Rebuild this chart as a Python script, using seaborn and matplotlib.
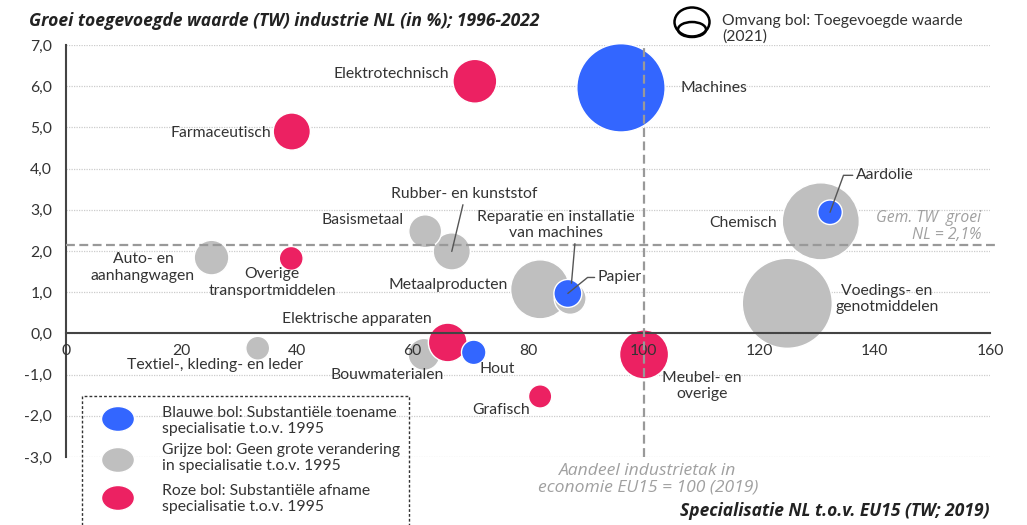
import matplotlib
matplotlib.use('Agg')
import matplotlib.pyplot as plt
import seaborn as sns
import pandas as pd
from matplotlib.patches import Ellipse, Rectangle
from matplotlib.ticker import MultipleLocator, FuncFormatter

# data
sectoren = ["Elektrotechnisch", "Farmaceutisch", "Machines", "Aardolie", "Chemisch",
            "Basismetaal", "Rubber- en kunststof", "Reparatie en installatie\nvan machines",
            "Papier", "Metaalproducten", "Voedings- en\ngenotmiddelen", "Auto- en\naanhangwagen",
            "Overige\ntransportmiddelen", "Elektrische apparaten", "Textiel-, kleding- en leder",
            "Bouwmaterialen", "Hout", "Meubel- en\noverige", "Grafisch"]
specialisatie = [70.8, 39.1, 96.1, 132.3, 130.7, 62.2, 66.8, 87.3, 86.9, 82.1,
                 124.9, 25.2, 39.0, 66.1, 33.2, 62.0, 70.6, 100.1, 82.1]
groei = [6.12, 4.90, 5.96, 2.94, 2.72, 2.48, 1.99, 0.85, 0.97, 1.07,
         0.73, 1.84, 1.82, -0.22, -0.36, -0.51, -0.46, -0.51, -1.53]
toegevoegde_waarde = [3.2, 2.3, 13.0, 1.0, 9.9, 1.8, 2.3, 1.7, 1.3, 5.8,
                      13.5, 2.0, 0.95, 2.5, 0.95, 1.7, 1.0, 4.0, 0.9]
kleur = ["roze", "roze", "blauw", "blauw", "grijs", "grijs", "grijs", "grijs", "blauw", "grijs",
         "grijs", "grijs", "roze", "roze", "grijs", "grijs", "blauw", "roze", "roze"]
gem_groei = 2.14
eu15 = 100

palette = {"blauw": "#3366ff", "grijs": "#bfbfbf", "roze": "#ec2162"}
kleur_volgorde = {"grijs": 0, "roze": 1, "blauw": 2}

# label placement: offset (points) from bubble centre, alignment, leader line
labels = {
    "Elektrotechnisch": (-18.7, 5.0, "right", None),
    "Farmaceutisch": (-15, -1.4, "right", None),
    "Machines": (42.5, 0, "left", None),
    "Aardolie": (18.7, 26.6, "left", dict(relpos=(0, 0.5), connectionstyle="angle,angleA=0,angleB=70,rad=0")),
    "Chemisch": (-31.7, -1.4, "right", None),
    "Basismetaal": (-15.8, 7.9, "right", None),
    "Rubber- en kunststof": (8.6, 41, "center", dict(relpos=(0.5, 0))),
    "Reparatie en installatie\nvan machines": (-10, 52.6, "center", dict(relpos=(0.62, 0), shrinkB=11)),
    "Papier": (21.6, 11.5, "left", dict(relpos=(0, 0.5), connectionstyle="angle,angleA=0,angleB=39,rad=0")),
    "Metaalproducten": (-23, 2.9, "right", None),
    "Voedings- en\ngenotmiddelen": (34.6, 2.9, "left", None),
    "Auto- en\naanhangwagen": (-11.9, -7.2, "right", None),
    "Overige\ntransportmiddelen": (-13.7, -17.3, "center", None),
    "Elektrische apparaten": (-11.5, 16.6, "right", None),
    "Textiel-, kleding- en leder": (-31, -12.2, "center", None),
    "Bouwmaterialen": (-26.6, -15.1, "center", None),
    "Hout": (4, -12.2, "left", None),
    "Meubel- en\noverige": (41.8, -23, "center", None),
    "Grafisch": (-7.2, -10, "right", None),
}

df = pd.DataFrame({"sector": sectoren, "x": specialisatie, "y": groei,
                   "tw": toegevoegde_waarde, "kleur": kleur})
df["orde"] = df["kleur"].map(kleur_volgorde)
df = df.sort_values(["orde", "tw"], ascending=[True, False])

sns.set_style("white")
plt.rcParams['font.family'] = ['Lato', 'DejaVu Sans']
txt = "#333333"
fs = 11.3
wide = ['Open Sans', 'DejaVu Sans']

fig = plt.figure(figsize=(10.27, 5.25), dpi=100)
ax = fig.add_axes([66 / 1027, 1 - 457 / 525, 924 / 1027, 412 / 525])

vmax = max(toegevoegde_waarde)
sns.scatterplot(data=df, x="x", y="y", hue="kleur", size="tw", palette=palette,
                sizes=(0, 311 * vmax), size_norm=(0, vmax), edgecolor="white",
                linewidth=1, alpha=1, legend=False, ax=ax, zorder=1, clip_on=False)

ax.set_xlim(0, 160)
ax.set_ylim(-3, 7)
yticks = list(range(-3, 8))
ax.set_yticks(yticks)
ax.set_xticks(range(0, 161, 20))
ax.xaxis.set_minor_locator(MultipleLocator(4))
ax.yaxis.set_minor_locator(MultipleLocator(0.5))
ax.yaxis.set_major_formatter(FuncFormatter(lambda v, p: f"{v:.1f}".replace(".", ",")))
ax.xaxis.set_major_formatter(FuncFormatter(lambda v, p: f"{v:.0f}"))
for yv in yticks:
    ax.axhline(yv, color="#cccccc", lw=0.9, ls=(0, (1, 1)), zorder=0.5)

for s in ["top", "right"]:
    ax.spines[s].set_visible(False)
ax.spines["bottom"].set_position(("data", 0))
for s in ["left", "bottom"]:
    ax.spines[s].set_color("#444444")
    ax.spines[s].set_linewidth(1.5)
ax.set_axisbelow(False)
ax.tick_params(which="both", direction="out", length=3.5, width=1, color="#444444",
               labelsize=11.3, labelcolor=txt)
ax.tick_params(axis="x", pad=4)
ax.tick_params(axis="y", pad=6.5)
ax.set_xlabel("")
ax.set_ylabel("")

# reference lines
ax.axhline(gem_groei, xmin=0, xmax=1.008, color="#999999", lw=1.6, ls=(0, (4, 2)),
           zorder=3, clip_on=False)
ax.axvline(eu15, color="#999999", lw=1.6, ls=(0, (4, 2)), zorder=3)

# bubble labels
for _, r in df.iterrows():
    dx, dy, ha, lead = labels[r["sector"]]
    ap = None
    if lead is not None:
        ap = dict(arrowstyle="-", color="#555555", lw=1, shrinkA=0, shrinkB=0)
        ap.update(lead)
    ax.annotate(r["sector"], xy=(r["x"], r["y"]), xytext=(dx, dy), textcoords="offset points",
                ha=ha, va="center", multialignment="center", fontsize=fs, color=txt,
                arrowprops=ap, zorder=4, annotation_clip=False)

ax.text(158.5, 2.6, "Gem. TW  groei\nNL = 2,1%", ha="right", va="center", style="italic",
        color="#a0a0a0", fontsize=11.3, multialignment="right", family=wide, linespacing=1.05)
fig.text(648 / 1027, 1 - 479 / 525, "Aandeel industrietak in\neconomie EU15 = 100 (2019)",
         ha="center", va="center", style="italic", color="#a0a0a0", fontsize=12.6, family=wide,
         linespacing=1.0)

# titles
fig.text(29 / 1027, 1 - 21 / 525, "Groei toegevoegde waarde (TW) industrie NL (in %); 1996-2022",
         ha="left", va="center", fontsize=12.6, fontweight="bold", style="italic", color="#222222",
         family=wide)
fig.text(990 / 1027, 1 - 511 / 525, "Specialisatie NL t.o.v. EU15 (TW; 2019)",
         ha="right", va="center", fontsize=12.5, fontweight="bold", style="italic", color="#222222",
         family=wide)

# size legend top right
fig.add_artist(Ellipse((692 / 1027, 1 - 22 / 525), 35 / 1027, 29 / 525, transform=fig.transFigure,
                       fill=False, ec="black", lw=1.8))
fig.add_artist(Ellipse((692 / 1027, 1 - 29.5 / 525), 28 / 1027, 15 / 525, transform=fig.transFigure,
                       fill=False, ec="black", lw=1.8))
fig.text(722 / 1027, 1 - 28.5 / 525, "Omvang bol: Toegevoegde waarde\n(2021)", ha="left",
         va="center", fontsize=fs, color=txt, linespacing=1.1)

# colour legend box bottom left
fig.add_artist(Rectangle((82 / 1027, -5 / 525), 327 / 1027, 134 / 525, transform=fig.transFigure,
                         fill=False, ec="#333333", lw=1, ls=(0, (2, 1.5)), clip_on=False))
legend_items = [("blauw", "Blauwe bol: Substantiële toename\nspecialisatie t.o.v. 1995", 419, 421),
                ("grijs", "Grijze bol: Geen grote verandering\nin specialisatie t.o.v. 1995", 460, 458),
                ("roze", "Roze bol: Substantiële afname\nspecialisatie t.o.v. 1995", 498, 499)]
for k, t, ye, yt in legend_items:
    fig.add_artist(Ellipse((118 / 1027, 1 - ye / 525), 33 / 1027, 25 / 525,
                           transform=fig.transFigure, color=palette[k], ec="white", lw=1))
    fig.text(162 / 1027, 1 - yt / 525, t, ha="left", va="center", fontsize=fs, color=txt,
             linespacing=1.1)

fig.savefig("out.png", dpi=100)
